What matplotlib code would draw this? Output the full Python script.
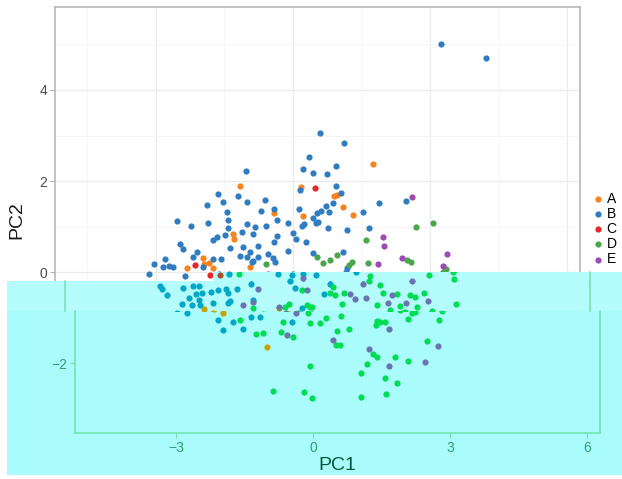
import matplotlib
matplotlib.use("Agg")
import matplotlib.pyplot as plt
from matplotlib.patches import Rectangle

plt.rcParams['font.family'] = ['Liberation Sans', 'DejaVu Sans']

# ---------------- data ----------------
groups = ["A", "B", "C", "D", "E"]

A_x = [-1.16, 0.18, -0.42, -1.31, -1.29, -1.97, -1.84, -2.32, -1.95, -1.75, -0.94, 1.75, 0.90, 0.96,
       1.09, 1.31, 0.22, -2.17, -1.97, -1.01, -0.53]
A_y = [1.89, 1.87, 1.30, 0.84, 0.73, 0.31, 0.20, 0.09, 0.18, 0.09, 0.11, 2.37, 1.67, 1.69,
       1.43, 1.25, 1.23, -0.81, -0.90, -1.65, -0.79]

B_x = [3.24, 4.23, 0.59, 1.12, 0.35, 0.22, 0.44, 0.74, 0.94, 0.94, 0.15, 1.05, 1.88, 2.47, 0.88,
       0.72, 0.79, 0.61, 0.53, 1.53, 0.44, 0.20, 0.50, 0.77, 1.18, 1.66, 0.28, 0.44, 1.09, 1.18,
       -1.03, -1.20, -1.64, -1.53, -1.01, -1.88, -0.61, -1.45, -0.70, -0.42, 0.13, -1.42, -2.54,
       -2.23, -1.86, -1.01, -1.42, -0.83, -0.59, -0.35, -0.11, -1.75, -1.66, -1.49, -1.12, -0.88,
       -0.42, -0.35, 0.00, 0.07, -2.47, -2.41, -1.38, -1.09, -0.77, -0.94, -0.11, -2.10, -1.16,
       -1.01, -0.77, -0.55, -0.44, -0.39, -2.19, -1.75, -1.58, -0.90, -3.04, -2.80, -2.85, -2.72,
       -2.63, -3.15, -2.37, -1.97, -0.88, 0.55, 0.24,
       -1.62, -0.55, -0.24, 0.00, 0.28, 1.16,
       -3.13, -3.09, -2.98, -2.63, -2.41, -2.28, -2.21, -2.34, -2.01, -1.86, -1.69, -1.64, -1.45,
       -1.14, -2.28, -2.26, -1.97, -2.50, -2.65, -2.43, -1.60, -1.64, -1.09, 0.59, 0.46, -0.02,
       -0.18, -0.28,
       -2.76, -2.08, -1.97, -1.75, -1.53, -1.36, -1.16, -0.46]
B_y = [5.01, 4.70, 3.05, 2.84, 2.53, 2.26, 2.18, 2.15, 2.33, 1.89, 1.80, 1.74, 1.52, 1.56, 1.52,
       1.45, 1.32, 1.34, 1.30, 1.32, 1.19, 1.01, 1.08, 0.97, 0.92, 0.97, 0.66, 0.42, 0.44, 0.09,
       2.22, 1.67, 1.71, 1.54, 1.54, 1.47, 1.58, 1.32, 1.34, 1.38, 1.38, 1.14, 1.12,
       1.01, 1.08, 1.05, 0.97, 0.99, 1.01, 1.14, 1.08, 0.70, 0.77, 0.81, 0.88, 0.84,
       0.66, 0.79, 0.86, 0.73, 0.62, 0.51, 0.53, 0.55, 0.57, 0.44, 0.46, 0.44, 0.35,
       0.33, 0.33, 0.40, 0.31, 0.22, 0.33, 0.29, 0.29, 0.22, 0.18, 0.29, 0.11, 0.13,
       0.11, -0.04, -0.09, 0.11, 0.24, 1.10, 1.05,
       -0.04, -0.04, -0.07, -0.04, -0.07, 0.00,
       -0.31, -0.37, -0.51, -0.35, -0.31, -0.31, -0.46, -0.48, -0.44, -0.40, -0.37, -0.46, -0.37,
       -0.26, -0.62, -0.73, -0.68, -0.57, -0.70, -0.73, -0.64, -0.68, -0.62, -0.26, -0.48, -0.79,
       -0.35, -0.20,
       -0.90, -1.05, -1.27, -1.10, -1.25, -0.99, -0.99, -1.10]

C_x = [0.48, -2.15, -1.82]
C_y = [1.85, 0.15, -0.07]

D_x = [0.53, -0.59, 3.07, 1.60, 2.69, 0.66, 0.81, 0.96, 1.29, 1.23, 1.64, 2.50, 2.58, 3.35,
       -1.40, 1.47, 2.76, 3.28, 3.31,
       0.66, 1.45, 1.69, -0.02, 0.59, 0.70, 0.90, 1.75, 2.06, 2.34, 2.45, 2.65, 0.85, 1.62, 2.12,
       2.50, 3.35, 0.15, 0.09, -0.31, 0.20, -0.39, -1.09, 1.90,
       -1.60, -1.09, -1.25, -0.66, -0.44, -0.70, -0.07, -0.11, 0.15, 0.28, 0.61, 0.53, 0.79, 0.50,
       0.59, 1.40, 1.47, 1.38, 1.58, 1.80, 2.08, 2.17, 2.23, 2.50, 2.76, 2.82,
       -0.07, -0.88, -0.20, -0.02, 1.31, 1.40, 1.18, 2.08, 1.05, 1.58, 1.84, 1.05, 1.60]
D_y = [0.33, 0.18, 1.08, 0.70, 0.99, 0.20, 0.26, 0.37, 0.22, 0.15, 0.20, 0.26, 0.22, 0.07,
       -0.04, -0.09, -0.07, 0.00, -0.15,
       -0.33, -0.20, -0.29, -0.40, -0.46, -0.51, -0.46, -0.46, -0.48, -0.51, -0.55, -0.46, -0.70,
       -0.73, -0.75, -0.77, -0.70, -0.77, -0.73, -0.70, -0.77, -0.77, -0.79, -0.84,
       -1.05, -1.34, -1.36, -1.10, -1.43, -1.32, -1.12, -0.90, -1.12, -1.01, -0.97, -1.30, -1.25,
       -1.60, -1.60, -1.08, -1.10, -1.16, -1.10, -1.87, -1.03, -0.90, -0.88, -1.52, -1.05, -0.86,
       -2.07, -2.62, -2.64, -2.77, -1.80, -1.87, -2.02, -1.96, -2.22, -2.33, -2.44, -2.75, -2.68]

E_x = [2.61, 1.97, 1.99, 1.86, 2.39, 3.37, 3.28, -0.99, -1.31, -1.09, 0.09, 1.31, 2.39, 1.03, 1.14,
       1.38, 1.95, 1.86, 2.26, 2.74, -0.53, 0.00, -0.37, -0.57, 0.44, 1.23, 1.66, 1.66, 2.45, 2.74]
E_y = [1.65, 0.77, 0.57, 0.18, 0.31, 0.40, 0.13, -0.37, -0.73, -0.66, -0.40, -0.26, -0.20, -0.48,
       -0.59, -0.57, -0.51, -0.68, -0.68, -0.64, -0.77, -0.13, -0.90, -1.38, -1.49, -1.69, -1.25,
       -2.07, -1.98, -1.63]

xs = {"A": A_x, "B": B_x, "C": C_x, "D": D_x, "E": E_x}
ys = {"A": A_y, "B": B_y, "C": C_y, "D": D_y, "E": E_y}

x_ticks = [-3, 0, 3, 6]
y_ticks = [-2, 0, 2, 4]

# ---------------- style ----------------
colors = {"A": "#f7831c", "B": "#2f7dc0", "C": "#e8242a", "D": "#4aa64a", "E": "#9b4bb3"}
tint_colors = {"A": "#c4a300", "B": "#00a8c8", "C": "#a8502a", "D": "#00dd55", "E": "#6a74b0"}
tint_band = "#b5fdfd"
tint_low = "#aafcfc"
tint_line = "#6fe0aa"
tint_text = "#2f9f6f"

W, H = 622, 479
fig = plt.figure(figsize=(W / 100, H / 100), dpi=100)
fig.patch.set_facecolor("white")


def rect(l, t, r, b):
    return [l / W, 1 - b / H, (r - l) / W, (b - t) / H]


XL = (-5.211, 6.284)
YL = (-3.538, 5.824)
P_TOP, P_BOT = 7, 433


def ypix2data(py):
    return YL[1] - (py - P_TOP) / (P_BOT - P_TOP) * (YL[1] - YL[0])


MS = 20

# ---------------- main panel ----------------
ax = fig.add_axes(rect(55, P_TOP, 580, P_BOT))
ax.set_zorder(0)
ax.set_xlim(XL)
ax.set_ylim(YL)
ax.set_xticks(x_ticks)
ax.set_yticks(y_ticks)
ax.set_xticks([-4.5, -1.5, 1.5, 4.5], minor=True)
ax.set_yticks([-3, -1, 1, 3, 5], minor=True)
ax.grid(which="major", color="#ebebeb", lw=0.9)
ax.grid(which="minor", color="#f5f5f5", lw=0.6)
ax.set_axisbelow(True)
for s in ax.spines.values():
    s.set_color("#b3b3b3")
    s.set_linewidth(1.1)
ax.tick_params(which="major", length=3.5, width=0.8, color="#b3b3b3",
               labelsize=10, labelcolor="#4d4d4d", pad=2)
ax.tick_params(which="minor", length=0)

handles = []
for g in groups:
    h = ax.scatter(xs[g], ys[g], s=MS, c=colors[g], linewidths=0, label=g)
    handles.append(h)

leg = ax.legend(handles=handles, labels=groups, loc="center left",
                bbox_to_anchor=(594 / W, 1 - 229 / H), bbox_transform=fig.transFigure,
                frameon=False, fontsize=10, handlelength=0.6, handletextpad=0.3,
                labelspacing=0.08, borderpad=0, borderaxespad=0)

fig.text(17 / W, 1 - 220 / H, "PC2", rotation=90, ha="center", va="center",
         fontsize=14, color="#1a1a1a")

# ---------------- tinted overlay ----------------
for (l, t, r, b, c) in [(213, 272, 622, 281, tint_band),
                        (7, 281, 622, 311, tint_band),
                        (7, 311, 622, 475, tint_low)]:
    fig.add_artist(Rectangle((l / W, 1 - b / H), (r - l) / W, (b - t) / H,
                             transform=fig.transFigure, facecolor=c, edgecolor="none", zorder=1))


def overlay_axes(l, t, r, b, spines_on):
    a = fig.add_axes(rect(l, t, r, b))
    a.set_zorder(2)
    a.patch.set_alpha(0)
    a.set_xlim(XL)
    a.set_ylim(ypix2data(b), ypix2data(t))
    for name, s in a.spines.items():
        s.set_visible(name in spines_on)
        s.set_color(tint_line)
        s.set_linewidth(1.1)
    a.set_xticks([])
    a.set_yticks([])
    for g in groups:
        a.scatter(xs[g], ys[g], s=MS, c=tint_colors[g], linewidths=0)
    return a


shift1 = 10
shift2 = 20
ax_strip = overlay_axes(213, 272, 580 + shift1, 281, ["right"])
ax_strip.set_xlim(XL[0] + (213 - 55 - shift1) / 525 * (XL[1] - XL[0]), XL[1])
ax_band = overlay_axes(55 + shift1, 281, 580 + shift1, 311, ["left", "right"])
ax_low = overlay_axes(55 + shift2, 311, 580 + shift2, P_BOT, ["left", "right", "bottom"])
ax_low.set_xticks(x_ticks)
ax_low.set_yticks([-2])
ax_low.tick_params(length=3.5, width=0.8, color=tint_line, labelsize=10,
                   labelcolor=tint_text, pad=2)

fig.text((55 + 580) / 2 / W + shift2 / W, 1 - 465 / H, "PC1", ha="center", va="center",
         fontsize=14, color="#005c38", zorder=3)

fig.savefig("out.png", dpi=100, facecolor="white")
